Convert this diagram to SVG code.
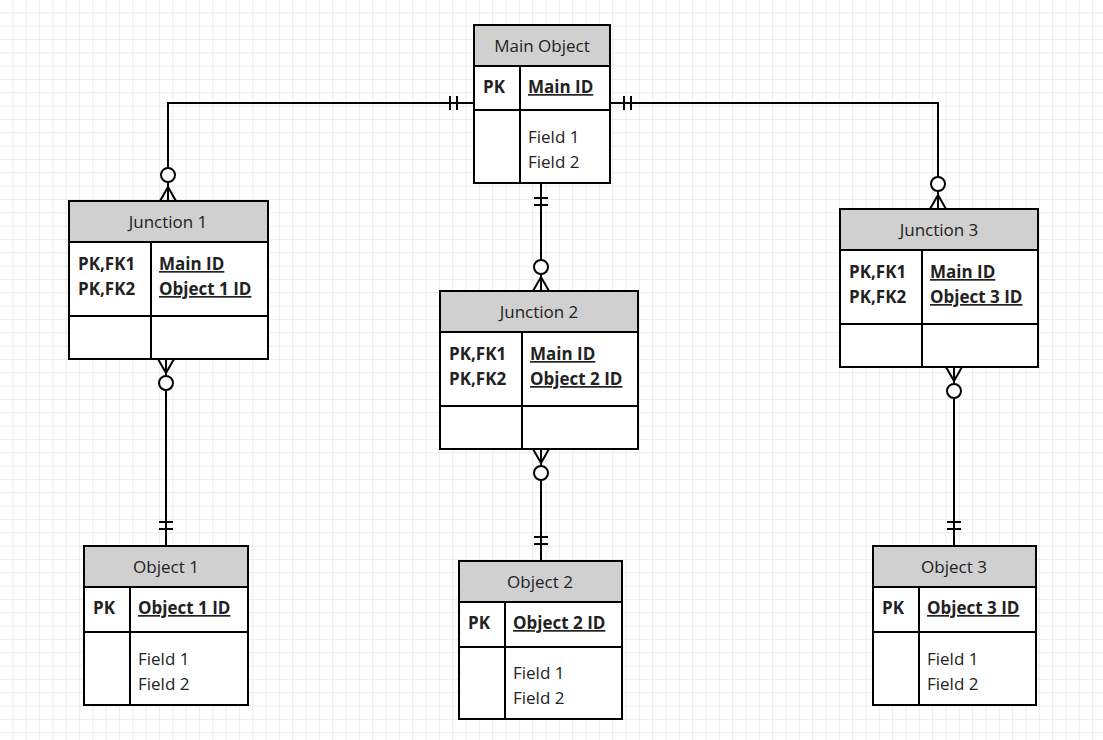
<svg xmlns="http://www.w3.org/2000/svg" width="1103" height="740" viewBox="0 0 1103 740">
<defs>
<pattern id="grid" width="13.33" height="13.33" patternUnits="userSpaceOnUse"><path d="M13.33 0V13.33H0" fill="none" stroke="#dcdcdc" stroke-width="1"/></pattern>
</defs>
<style>
.b{fill:#fff;stroke:#000;stroke-width:2}
.h{fill:#d0d0d0;stroke:#000;stroke-width:2}
.l{stroke:#000;stroke-width:2;fill:none}
.c{fill:#fff;stroke:#000;stroke-width:2}
text{font-family:"Open Sans","Liberation Sans",sans-serif;font-size:17px;fill:#222}
.t{text-anchor:middle}
.k{font-weight:bold}
.u{font-weight:bold;text-decoration:underline}
</style>
<rect width="1103" height="740" fill="#fff"/>
<rect width="1103" height="740" fill="url(#grid)"/>
<g id="connectors">
<path class="l" d="M474 103H168V201 M450 96v14 M457 96v14 M160 201l8-14 8 14 M168 187v14"/>
<circle class="c" cx="168" cy="175" r="7"/>
<path class="l" d="M610 103H938V209 M624 96v14 M631 96v14 M930 209l8-14 8 14"/>
<circle class="c" cx="938" cy="184" r="7"/>
<path class="l" d="M541 183V291 M534 198h14 M534 205h14 M533 291l8-14 8 14"/>
<circle class="c" cx="541" cy="267" r="7"/>
<path class="l" d="M166 359V546 M158 359l8 14 8-14 M159 522h14 M159 529h14"/>
<circle class="c" cx="166" cy="383" r="7"/>
<path class="l" d="M541 449V561 M533 449l8 14 8-14 M534 537h14 M534 544h14"/>
<circle class="c" cx="541" cy="473" r="7"/>
<path class="l" d="M954 367V546 M946 367l8 14 8-14 M947 522h14 M947 529h14"/>
<circle class="c" cx="954" cy="391" r="7"/>
</g>
<g id="main">
<rect class="b" x="474" y="25" width="136" height="158"/>
<rect class="h" x="474" y="25" width="136" height="41"/>
<path class="l" d="M474 110H610 M520 66V183"/>
<text class="t" x="542" y="52">Main Object</text>
<text class="k" x="483" y="93">PK</text>
<text class="u" x="528" y="93">Main ID</text>
<text x="528" y="143">Field 1</text>
<text x="528" y="168">Field 2</text>
</g>
<g id="junction1">
<rect class="b" x="69" y="201" width="199" height="158"/>
<rect class="h" x="69" y="201" width="199" height="41"/>
<path class="l" d="M69 316H268 M151 242V359"/>
<text class="t" x="168" y="228">Junction 1</text>
<text class="k" x="78" y="270">PK,FK1</text>
<text class="k" x="78" y="295">PK,FK2</text>
<text class="u" x="159" y="270">Main ID</text>
<text class="u" x="159" y="295">Object 1 ID</text>
</g>
<g id="junction2">
<rect class="b" x="440" y="291" width="198" height="158"/>
<rect class="h" x="440" y="291" width="198" height="41"/>
<path class="l" d="M440 406H638 M522 332V449"/>
<text class="t" x="539" y="318">Junction 2</text>
<text class="k" x="449" y="360">PK,FK1</text>
<text class="k" x="449" y="385">PK,FK2</text>
<text class="u" x="530" y="360">Main ID</text>
<text class="u" x="530" y="385">Object 2 ID</text>
</g>
<g id="junction3">
<rect class="b" x="840" y="209" width="198" height="158"/>
<rect class="h" x="840" y="209" width="198" height="41"/>
<path class="l" d="M840 324H1038 M922 250V367"/>
<text class="t" x="939" y="236">Junction 3</text>
<text class="k" x="849" y="278">PK,FK1</text>
<text class="k" x="849" y="303">PK,FK2</text>
<text class="u" x="930" y="278">Main ID</text>
<text class="u" x="930" y="303">Object 3 ID</text>
</g>
<g id="object1">
<rect class="b" x="84" y="546" width="164" height="159"/>
<rect class="h" x="84" y="546" width="164" height="41"/>
<path class="l" d="M84 632H248 M130 587V705"/>
<text class="t" x="166" y="573">Object 1</text>
<text class="k" x="93" y="614">PK</text>
<text class="u" x="138" y="614">Object 1 ID</text>
<text x="138" y="665">Field 1</text>
<text x="138" y="690">Field 2</text>
</g>
<g id="object2">
<rect class="b" x="459" y="561" width="163" height="158"/>
<rect class="h" x="459" y="561" width="163" height="41"/>
<path class="l" d="M459 647H622 M505 602V719"/>
<text class="t" x="540" y="588">Object 2</text>
<text class="k" x="468" y="629">PK</text>
<text class="u" x="513" y="629">Object 2 ID</text>
<text x="513" y="679">Field 1</text>
<text x="513" y="704">Field 2</text>
</g>
<g id="object3">
<rect class="b" x="873" y="546" width="163" height="159"/>
<rect class="h" x="873" y="546" width="163" height="41"/>
<path class="l" d="M873 632H1036 M919 587V705"/>
<text class="t" x="954" y="573">Object 3</text>
<text class="k" x="882" y="614">PK</text>
<text class="u" x="927" y="614">Object 3 ID</text>
<text x="927" y="665">Field 1</text>
<text x="927" y="690">Field 2</text>
</g>
</svg>
